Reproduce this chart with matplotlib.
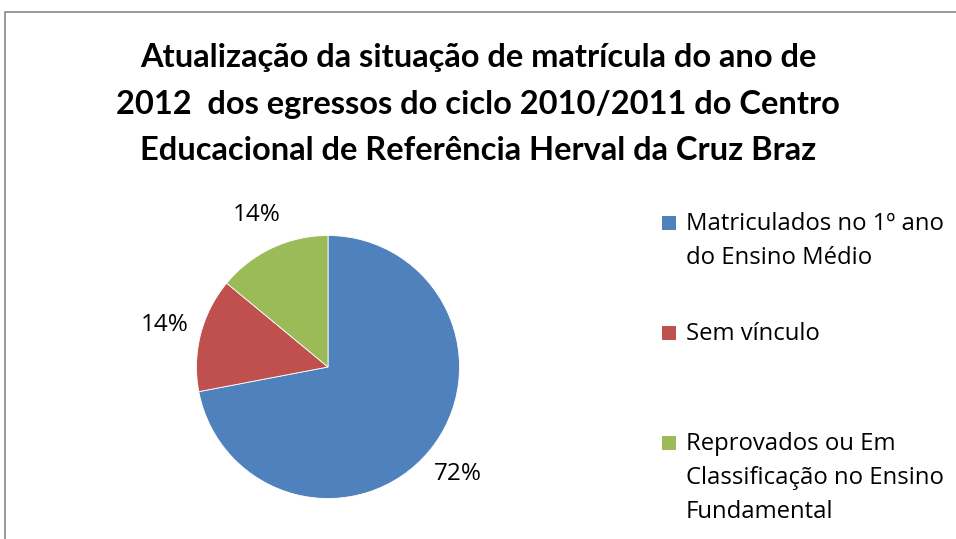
import matplotlib
matplotlib.use("Agg")
import matplotlib.pyplot as plt
from matplotlib.patches import Rectangle

title_lines = ["Atualização da situação de matrícula do ano de",
               "2012  dos egressos do ciclo 2010/2011 do Centro",
               "Educacional de Referência Herval da Cruz Braz"]
categories = ["Matriculados no 1º ano\ndo Ensino Médio",
              "Sem vínculo",
              "Reprovados ou Em\nClassificação no Ensino\nFundamental"]
values = [72, 14, 14]
colors = ["#4F81BD", "#C0504D", "#9BBB59"]

W, H = 956, 539
fig = plt.figure(figsize=(W / 100, H / 100), dpi=100)
TFONT = "Lato"
FONT = "Open Sans"

def fx(px):
    return px / W

def fy(py):
    return 1 - py / H

# chart border
fig.add_artist(Rectangle((fx(5), fy(560)), fx(1000), (560 - 12) / H,
                         transform=fig.transFigure, fill=False,
                         edgecolor="#888888", linewidth=1.2))

# title
for i, line in enumerate(title_lines):
    fig.text(fx(478), fy(58 + i * 46.5), line, ha="center", va="center",
             fontsize=23.5, fontweight="bold", family=TFONT, color="black")

# pie
cx, cy, r = 328, 367, 131.5
ax = fig.add_axes([fx(cx - r), fy(cy + r), 2 * r / W, 2 * r / H])
wedges, texts, autotexts = ax.pie(values, colors=colors, startangle=90,
                                  counterclock=False, autopct="%1.0f%%",
                                  pctdistance=1.28, radius=1,
                                  wedgeprops=dict(linewidth=0.6, edgecolor="white"))
for t in autotexts:
    t.set_fontsize(17.5)
    t.set_family(FONT)
    t.set_color("black")
ax.set_xlim(-1, 1)
ax.set_ylim(-1, 1)
ax.set_aspect("equal")
ax.axis("off")

# legend
entry_tops = [224, 334, 444]
line_h = 34
for cat, col, ytop in zip(categories, colors, entry_tops):
    fig.add_artist(Rectangle((fx(662), fy(ytop + 6)), 14 / W, 14 / H,
                             transform=fig.transFigure, facecolor=col,
                             edgecolor="none"))
    for j, ln in enumerate(cat.split("\n")):
        fig.text(fx(686), fy(ytop + j * line_h), ln, ha="left", va="center",
                 fontsize=17.2, family=FONT, color="black")

fig.savefig("out.png", dpi=100, facecolor="white")
